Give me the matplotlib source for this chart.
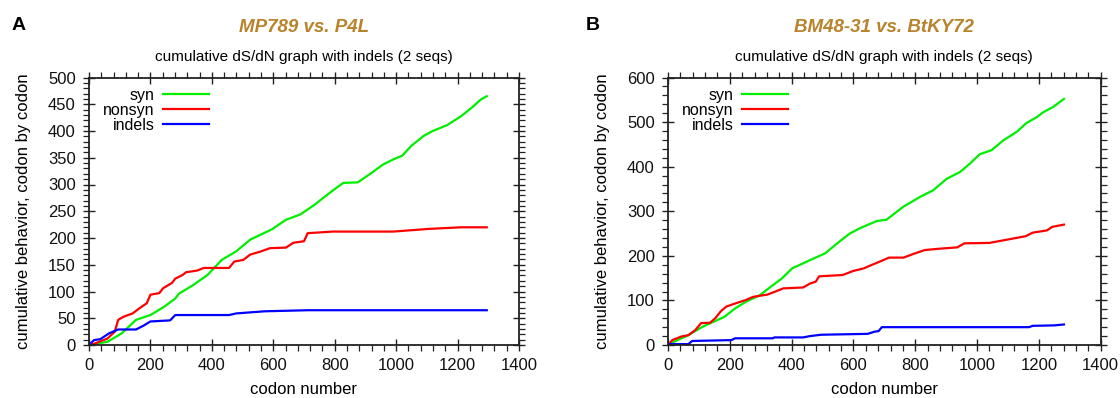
import matplotlib
matplotlib.use("Agg")
import matplotlib.pyplot as plt
from matplotlib.ticker import MultipleLocator

plt.rcParams['font.family'] = ['Liberation Sans', 'DejaVu Sans']

# ---------------- data ----------------
# Panel A: MP789 vs. P4L
a_syn_x = [0, 60, 107, 153, 200, 246, 281, 293, 339, 386, 432, 479, 525, 595, 641, 688, 734,
           758, 799, 828, 875, 921, 956, 991, 1020, 1049, 1090, 1119, 1166, 1212, 1247, 1276, 1295]
a_syn_y = [0, 6, 22, 47, 56, 72, 87, 96, 112, 131, 159, 175, 197, 216, 234, 244, 262,
           273, 291, 303, 304, 322, 337, 347, 354, 372, 391, 400, 411, 428, 444, 459, 465]
a_non_x = [0, 20, 60, 84, 95, 113, 142, 165, 188, 200, 229, 241, 270, 281, 305, 316, 351, 374,
           456, 473, 502, 525, 560, 589, 641, 665, 700, 712, 793, 990, 1106, 1211, 1295]
a_non_y = [0, 3, 12, 25, 47, 53, 59, 69, 78, 94, 97, 106, 116, 124, 131, 136, 139, 144,
           144, 156, 159, 169, 175, 181, 182, 191, 194, 209, 212, 212, 217, 220, 220]
a_ind_x = [0, 16, 37, 66, 95, 153, 177, 200, 264, 281, 456, 479, 525, 572, 712, 1295]
a_ind_y = [0, 9, 11, 22, 29, 29, 36, 44, 46, 56, 56, 59, 61, 63, 65, 65]

# Panel B: BM48-31 vs. BtKY72
b_syn_x = [0, 31, 66, 112, 147, 182, 217, 252, 298, 333, 368, 402, 449, 484, 507, 553, 588,
           621, 675, 707, 761, 815, 858, 902, 945, 977, 1009, 1047, 1085, 1128, 1160, 1193,
           1214, 1246, 1281]
b_syn_y = [0, 11, 22, 41, 52, 63, 82, 97, 112, 131, 149, 172, 187, 198, 205, 231, 250,
           262, 278, 281, 310, 332, 347, 373, 388, 407, 428, 437, 459, 478, 498, 511,
           522, 534, 552]
b_non_x = [0, 14, 43, 66, 89, 107, 136, 153, 170, 188, 217, 252, 275, 321, 344, 373, 437, 460,
           478, 489, 565, 599, 634, 657, 692, 715, 762, 797, 831, 878, 936, 959, 1040, 1087,
           1157, 1180, 1226, 1243, 1281]
b_non_y = [0, 11, 19, 22, 34, 49, 50, 60, 75, 86, 93, 101, 108, 113, 119, 127, 129, 138,
           142, 154, 157, 166, 172, 179, 189, 196, 196, 205, 213, 216, 219, 228, 229, 235,
           244, 252, 257, 265, 270]
b_ind_x = [0, 8, 66, 78, 205, 217, 339, 344, 437, 460, 495, 646, 669, 681, 692, 1168, 1180,
           1249, 1281]
b_ind_y = [0, 2, 2, 9, 11, 15, 15, 17, 17, 20, 23, 25, 30, 31, 40, 40, 43, 44, 46]

series_labels = ["syn", "nonsyn", "indels"]
series_colors = ["#00ee00", "#ff0000", "#0000ff"]
panel_titles = ["MP789 vs. P4L", "BM48-31 vs. BtKY72"]
panel_letters = ["A", "B"]
subtitle = "cumulative dS/dN graph with indels (2 seqs)"
x_label = "codon number"
y_label = "cumulative behavior, codon by codon"
y_limits = [500, 600]
y_major = [50, 100]
y_minor = [10, 20]

fig = plt.figure(figsize=(11.2, 3.98), dpi=100)
axA = fig.add_axes([89 / 1120, 53 / 398, 430 / 1120, 267.5 / 398])
axB = fig.add_axes([668 / 1120, 53 / 398, 432.7 / 1120, 267.5 / 398])

panels = [
    (axA, [(a_syn_x, a_syn_y), (a_non_x, a_non_y), (a_ind_x, a_ind_y)]),
    (axB, [(b_syn_x, b_syn_y), (b_non_x, b_non_y), (b_ind_x, b_ind_y)]),
]

title_color = "#b8832a"
for i, (ax, data) in enumerate(panels):
    for (xs, ys), lab, col in zip(data, series_labels, series_colors):
        ax.plot(xs, ys, color=col, lw=1.6, label=lab, solid_joinstyle='round')
    ax.set_xlim(0, 1400)
    ax.set_ylim(0, y_limits[i])
    ax.xaxis.set_major_locator(MultipleLocator(200))
    ax.xaxis.set_minor_locator(MultipleLocator(40))
    ax.yaxis.set_major_locator(MultipleLocator(y_major[i]))
    ax.yaxis.set_minor_locator(MultipleLocator(y_minor[i]))
    ax.tick_params(which='major', direction='inout', length=9, width=1.0,
                   top=True, right=True, labelsize=12, pad=5, color='#222222',
                   labelcolor='#111111')
    ax.tick_params(which='minor', direction='out', length=4, width=0.9,
                   top=True, right=True, color='#222222')
    for sp in ax.spines.values():
        sp.set_linewidth(1.3)
        sp.set_color('#222222')
    ax.set_xlabel(x_label, fontsize=12, labelpad=6)
    ax.set_ylabel(y_label, fontsize=12, labelpad=12)
    ax.set_title(subtitle, fontsize=11, pad=12)
    leg = ax.legend(loc='upper left', bbox_to_anchor=(0.032, 0.962), frameon=False,
                    markerfirst=False, fontsize=11.5, handlelength=2.9,
                    handletextpad=0.55, labelspacing=0.0, borderpad=0, borderaxespad=0)
    # main title and panel letter
    bb = ax.get_position()
    fig.text((bb.x0 + bb.x1) / 2, 1 - 27 / 398, panel_titles[i], ha='center', va='center',
             fontsize=13.5, fontweight='bold', fontstyle='italic', color=title_color)

fig.text(19 / 1120, 1 - 25 / 398, panel_letters[0], ha='center', va='center',
         fontsize=14, fontweight='bold')
fig.text(593 / 1120, 1 - 25 / 398, panel_letters[1], ha='center', va='center',
         fontsize=14, fontweight='bold')

fig.savefig("out.png", dpi=100)
